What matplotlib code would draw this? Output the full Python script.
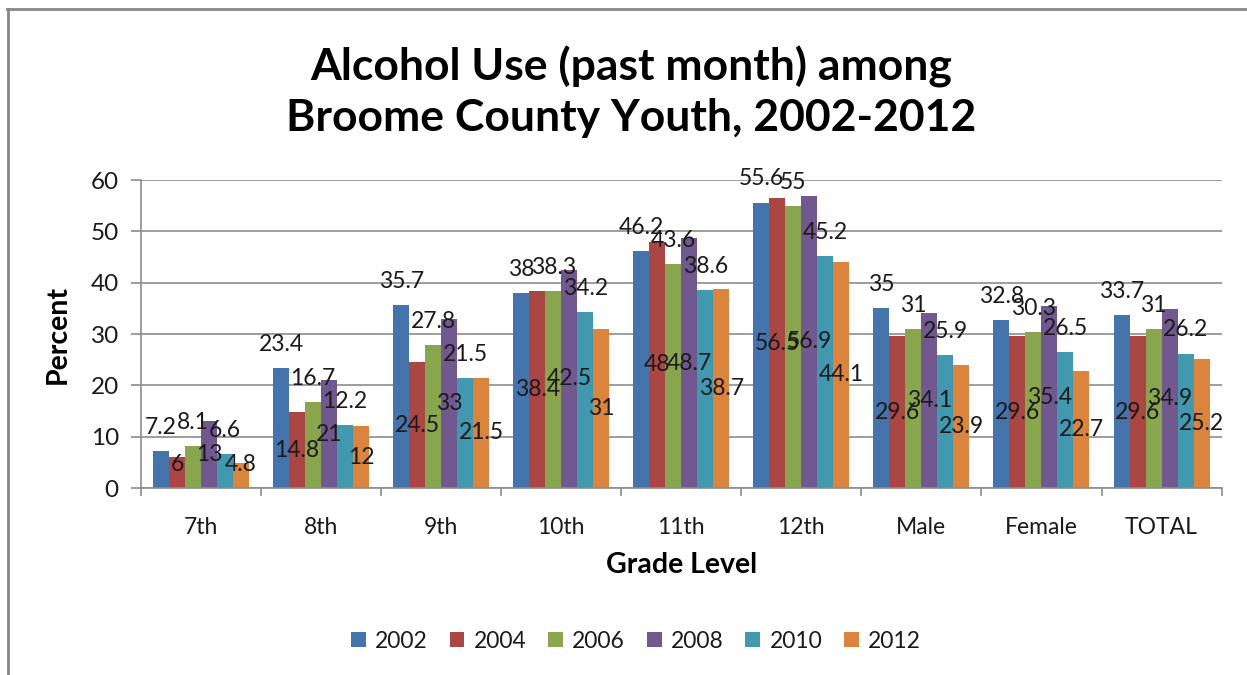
import matplotlib
matplotlib.use("Agg")
import matplotlib.pyplot as plt
import numpy as np
from matplotlib.lines import Line2D
from matplotlib.patches import Patch

# data
categories = ['7th', '8th', '9th', '10th', '11th', '12th', 'Male', 'Female', 'TOTAL']
years = ['2002', '2004', '2006', '2008', '2010', '2012']
v2002 = [7.2, 23.4, 35.7, 38, 46.2, 55.6, 35, 32.8, 33.7]
v2004 = [6, 14.8, 24.5, 38.4, 48, 56.5, 29.6, 29.6, 29.6]
v2006 = [8.1, 16.7, 27.8, 38.3, 43.6, 55, 31, 30.3, 31]
v2008 = [13, 21, 33, 42.5, 48.7, 56.9, 34.1, 35.4, 34.9]
v2010 = [6.6, 12.2, 21.5, 34.2, 38.6, 45.2, 25.9, 26.5, 26.2]
v2012 = [4.8, 12, 21.5, 31, 38.7, 44.1, 23.9, 22.7, 25.2]
series = [v2002, v2004, v2006, v2008, v2010, v2012]
colors = ['#4573AB', '#AA4643', '#89A54E', '#71588F', '#4198AF', '#DB843D']

plt.rcParams['font.family'] = ['Lato', 'DejaVu Sans']
txt = '#1a1a1a'
grid_c = '#8c8c8c'

fig = plt.figure(figsize=(12.47, 6.75), dpi=100)
ax = fig.add_axes([0.1131, 0.2770, 0.8665, 0.4563])

x = np.arange(len(categories))
w = 0.8 / len(series)
for j, vals in enumerate(series):
    xs = x + (j - 2.5) * w
    ax.bar(xs, vals, width=w, color=colors[j], zorder=2)
    for xi, v in zip(xs, vals):
        if j % 2 == 0:
            # outside-end style labels
            ax.annotate(f'{v:g}', (xi, v), xytext=(0, 17), textcoords='offset points',
                        ha='center', va='center', fontsize=16.5, color=txt, zorder=3)
        else:
            # centred labels, kept clear of the axis line
            ax.text(xi, max(v / 2, 4.5), f'{v:g}', ha='center', va='center',
                    fontsize=16.5, color=txt, zorder=3)

ax.set_xlim(-0.5, len(categories) - 0.5)
ax.set_ylim(0, 60)
ax.set_yticks(range(0, 61, 10))
ax.yaxis.grid(True, color=grid_c, linewidth=1.2, zorder=0)
ax.set_axisbelow(True)

ax.set_xticks(x)
ax.set_xticklabels(categories)
ax.set_xticks(np.arange(-0.5, len(categories)), minor=True)
ax.tick_params(axis='x', which='major', length=0, pad=21, labelsize=16.5, labelcolor=txt)
ax.tick_params(axis='x', which='minor', length=6, width=1.2, color=grid_c)
ax.tick_params(axis='y', length=7, width=1.2, color=grid_c, pad=9, labelsize=17.5, labelcolor=txt)

for s in ['top', 'right']:
    ax.spines[s].set_visible(False)
for s in ['left', 'bottom']:
    ax.spines[s].set_color(grid_c)
    ax.spines[s].set_linewidth(1.2)

ax.set_xlabel('Grade Level', fontsize=20.5, fontweight='bold', labelpad=10, color='black')
ax.set_ylabel('Percent', fontsize=20.5, fontweight='bold', labelpad=14, color='black')

fig.text(0.506, 0.864, 'Alcohol Use (past month) among\nBroome County Youth, 2002-2012',
         ha='center', va='center', fontsize=32, fontweight='bold', linespacing=1.3)

handles = [Patch(facecolor=c) for c in colors]
fig.legend(handles, years, loc='center', bbox_to_anchor=(0.51, 0.05), ncol=6,
           frameon=False, fontsize=16.5, handlelength=0.65, handleheight=0.65,
           handletextpad=0.4, columnspacing=0.95, labelcolor=txt)

# chart area border (top and left edges visible)
fig.add_artist(Line2D([0.0056, 1.0], [0.9867, 0.9867], transform=fig.transFigure,
                      color='#878787', linewidth=2))
fig.add_artist(Line2D([0.0064, 0.0064], [0.0, 0.9867], transform=fig.transFigure,
                      color='#878787', linewidth=2))

fig.savefig('out.png', dpi=100)
